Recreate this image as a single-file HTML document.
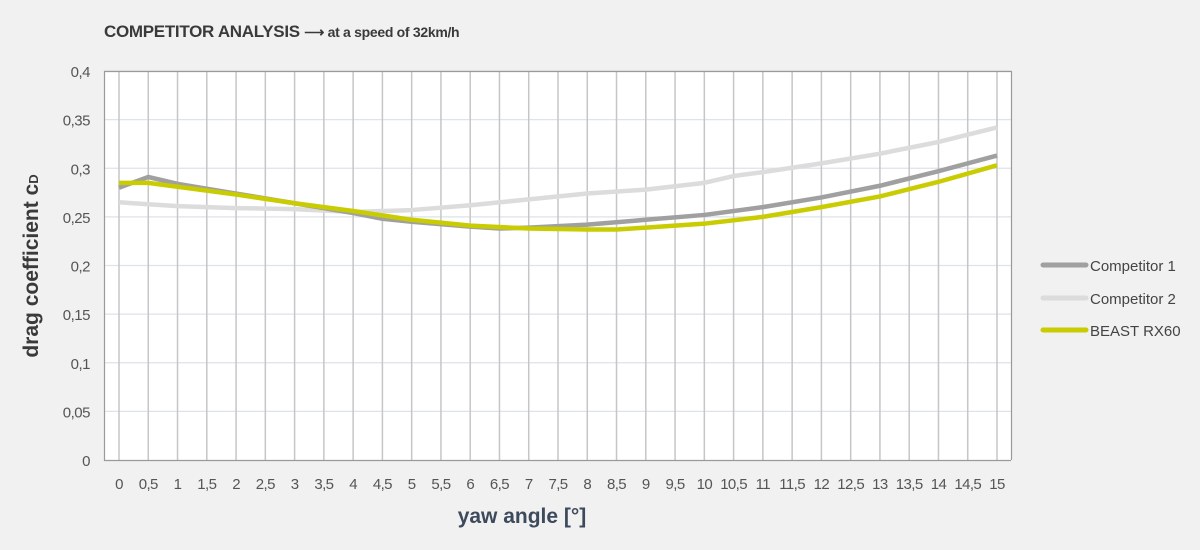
<!DOCTYPE html>
<html><head><meta charset="utf-8"><style>
html,body{margin:0;padding:0;background:#f1f1f1;}
svg{display:block;font-family:"Liberation Sans",sans-serif;}
</style></head><body>
<svg id="s" width="1200" height="550" xmlns="http://www.w3.org/2000/svg">
<rect width="1200" height="550" fill="#f1f1f1"/>
<text x="104" y="37" font-size="17" font-weight="bold" fill="#3a3a3a" letter-spacing="-0.3">COMPETITOR ANALYSIS <tspan font-size="14">⟶ at a speed of 32km/h</tspan></text>
<rect x="104" y="71" width="907" height="389" fill="#fff"/>
<g id="g"></g>
<path d="M104.5 71 V460.5 H1011 M104 71.5 H1011.5 V460" fill="none" stroke="#9a9a9a" stroke-width="1.2"/>
<text transform="translate(38,266) rotate(-90)" text-anchor="middle" font-size="21" font-weight="bold" fill="#3a3a3a">drag coefficient c<tspan font-size="13">D</tspan></text>
<text x="522" y="523" text-anchor="middle" font-size="21" font-weight="bold" fill="#3d4a5c">yaw angle [°]</text>
<line x1="1043" y1="265" x2="1086" y2="265" stroke="#a0a0a0" stroke-width="5" stroke-linecap="round"/>
<text x="1090" y="271" font-size="15" fill="#444">Competitor 1</text>
<line x1="1043" y1="298" x2="1086" y2="298" stroke="#dcdcdc" stroke-width="5" stroke-linecap="round"/>
<text x="1090" y="304" font-size="15" fill="#444">Competitor 2</text>
<line x1="1043" y1="330" x2="1086" y2="330" stroke="#c9cc00" stroke-width="5" stroke-linecap="round"/>
<text x="1090" y="336" font-size="15" fill="#444">BEAST RX60</text>
</svg>
<script>
var NS="http://www.w3.org/2000/svg",g=document.getElementById('g');
function X(v){return 119+v*(997-119)/15;}
function Y(v){return 460-v*972.5;}
function el(t,a,txt){var e=document.createElementNS(NS,t);for(var k in a)e.setAttribute(k,a[k]);if(txt!=null)e.textContent=txt;g.appendChild(e);return e;}
for(var i=1;i<=8;i++){var v=i*0.05;el('line',{x1:104,x2:1011,y1:Y(v),y2:Y(v),stroke:'#dde3ea','stroke-width':1.2});}
for(var i=0;i<=8;i++){var v=i*0.05;el('text',{x:90,y:Y(v)+6,'text-anchor':'end','font-size':15,'letter-spacing':'-0.5',fill:'#555'},(Math.round(v*100)/100+'').replace('.',','));}
for(var i=0;i<=30;i++){var v=i/2;el('line',{x1:X(v),x2:X(v),y1:71,y2:460,stroke:'#c6c6c6','stroke-width':1.5});el('text',{x:X(v),y:489,'text-anchor':'middle','font-size':15,'letter-spacing':'-0.6',fill:'#555'},(v+'').replace('.',','));}
var c1=[[0,.28],[.5,.291],[1,.284],[2,.274],[3,.264],[4,.254],[4.5,.248],[5,.245],[6,.24],[6.5,.238],[7,.239],[8,.242],[9,.247],[10,.252],[11,.26],[12,.27],[13,.282],[14,.297],[15,.313]];
var c2=[[0,.265],[1,.261],[2,.259],[3,.258],[4,.255],[5,.257],[6,.262],[7,.268],[8,.274],[9,.278],[10,.285],[10.5,.292],[11,.296],[12,.305],[13,.315],[14,.327],[15,.342]];
var b=[[0,.285],[.5,.285],[1,.281],[2,.273],[3,.264],[4,.256],[5,.247],[6,.241],[7,.238],[8,.237],[8.5,.237],[9,.239],[10,.243],[11,.25],[12,.26],[13,.271],[14,.286],[15,.303]];
function line(d,c){el('polyline',{points:d.map(function(p){return X(p[0])+','+Y(p[1]);}).join(' '),fill:'none',stroke:c,'stroke-width':4.5,'stroke-linejoin':'round'});}
line(c2,'#dcdcdc');line(c1,'#a0a0a0');line(b,'#c9cc00');
</script>
</body></html>
